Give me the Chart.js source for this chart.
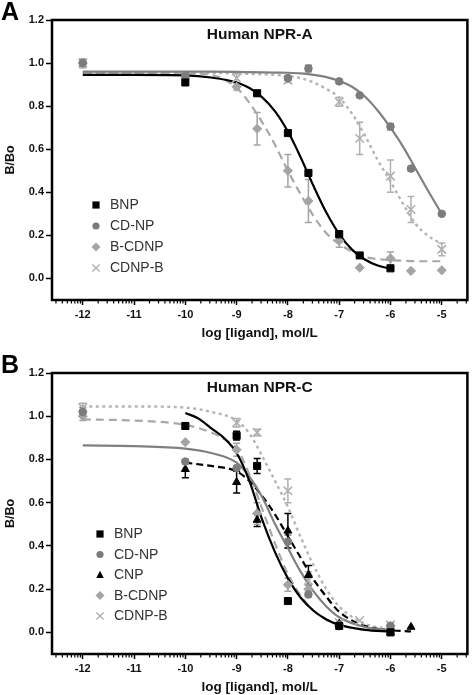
<!DOCTYPE html>
<html>
<head>
<meta charset="utf-8">
<title>Human NPR-A / NPR-C binding</title>
<script src="https://cdn.jsdelivr.net/npm/chart.js"></script>
<style>
  body { margin:0; background:#fff; width:475px; height:695px; position:relative; overflow:hidden; font-family:"Liberation Sans", Arial, sans-serif; }
  .panel { position:absolute; left:0; width:475px; height:345px; }
  .tag { position:absolute; left:1px; font-weight:bold; font-size:25px; line-height:25px; color:#000; }
</style>
</head>
<body>
<div class="panel" style="top:0"><canvas id="chartA" width="475" height="345"></canvas></div>
<div class="panel" style="top:350px"><canvas id="chartB" width="475" height="345"></canvas></div>
<div class="tag" style="top:-1px">A</div>
<div class="tag" style="top:352px">B</div>

<script>
const FONT = '"Liberation Sans", Arial, sans-serif';

// ================= DATA =================
const xTicks = [-12, -11, -10, -9, -8, -7, -6, -5];
const yTicks = [0, 0.2, 0.4, 0.6, 0.8, 1.0, 1.2];

// --- A: Human NPR-A, measured points (log M, B/Bo, SEM) ---
const aBnpX = [-10, -8.6, -8, -7.6, -7, -6.6, -6];
const aBnpY = [0.91, 0.86, 0.675, 0.49, 0.205, 0.107, 0.047];
const aBnpE = [0.01, 0.01, 0.01, 0, 0.015, 0.01, 0];

const aCdnpX = [-12, -10, -8, -7.6, -7, -6.6, -6, -5.6, -5];
const aCdnpY = [1.0, 0.94, 0.93, 0.975, 0.915, 0.85, 0.705, 0.51, 0.30];
const aCdnpE = [0.02, 0.01, 0.01, 0.015, 0.01, 0.005, 0.015, 0.01, 0.005];

const aBcdnpX = [-12, -10, -9, -8.6, -8, -7.6, -7, -6.6, -6, -5.6, -5];
const aBcdnpY = [1.0, 0.93, 0.89, 0.695, 0.50, 0.36, 0.175, 0.05, 0.093, 0.035, 0.038];
const aBcdnpE = [0.02, 0.01, 0.015, 0.075, 0.075, 0.10, 0.03, 0, 0.03, 0, 0];

const aCdnpbX = [-12, -9, -8, -7, -6.6, -6, -5.6, -5];
const aCdnpbY = [1.0, 0.93, 0.92, 0.82, 0.65, 0.475, 0.32, 0.135];
const aCdnpbE = [0.02, 0.02, 0.01, 0.02, 0.075, 0.075, 0.06, 0.03];

// --- A: fitted curves ---
const aFitX = [-12, -11, -10, -9.5, -9, -8.75, -8.5, -8.25, -8, -7.75, -7.5, -7.25, -7, -6.75, -6.5, -6.25, -6, -5.75, -5.5, -5.25, -5];
const aBnpFit = [0.945, 0.945, 0.943, 0.933, 0.91, 0.884, 0.841, 0.776, 0.682, 0.562, 0.429, 0.306, 0.206, 0.134, 0.088, 0.06, 0.045];
const aCdnpFit = [0.96, 0.96, 0.96, 0.96, 0.959, 0.958, 0.957, 0.956, 0.955, 0.952, 0.945, 0.935, 0.917, 0.89, 0.845, 0.78, 0.70, 0.61, 0.505, 0.40, 0.30];
const aBcdnpFit = [0.955, 0.955, 0.952, 0.945, 0.885, 0.815, 0.725, 0.62, 0.50, 0.39, 0.29, 0.21, 0.16, 0.125, 0.10, 0.09, 0.085, 0.082, 0.08, 0.08, 0.08];
const aCdnpbFit = [0.955, 0.955, 0.955, 0.954, 0.952, 0.95, 0.948, 0.945, 0.94, 0.93, 0.91, 0.88, 0.84, 0.765, 0.665, 0.55, 0.45, 0.345, 0.25, 0.195, 0.16];

// --- B: Human NPR-C, measured points ---
const bBnpX = [-10, -9, -8.6, -8, -7, -6];
const bBnpY = [0.955, 0.91, 0.77, 0.145, 0.03, 0.0];
const bBnpE = [0.015, 0.02, 0.035, 0, 0, 0];

const bCdnpX = [-12, -10, -9, -8, -7.6, -7, -6];
const bCdnpY = [1.02, 0.79, 0.76, 0.42, 0.175, 0.035, 0.03];
const bCdnpE = [0.02, 0.01, 0, 0.03, 0.01, 0, 0];

const bCnpX = [-10, -9, -8.6, -8, -7.6, -7, -6, -5.6];
const bCnpY = [0.755, 0.695, 0.52, 0.47, 0.265, 0.04, 0.0, 0.025];
const bCnpE = [0.04, 0.05, 0.03, 0.08, 0.045, 0, 0, 0];

const bBcdnpX = [-12, -10, -9, -8.6, -8, -7.6, -7, -6];
const bBcdnpY = [1.0, 0.88, 0.845, 0.55, 0.22, 0.2, 0.03, 0.03];
const bBcdnpE = [0.02, 0, 0.03, 0.05, 0.03, 0.02, 0, 0];

const bCdnpbX = [-12, -9, -8.6, -8, -7.6, -7, -6.6, -6];
const bCdnpbY = [1.04, 0.97, 0.925, 0.655, 0.24, 0.045, 0.055, 0.035];
const bCdnpbE = [0.02, 0.02, 0.015, 0.055, 0.04, 0, 0, 0];

// --- B: fitted curves ---
const bBnpFitX = [-10, -9.75, -9.5, -9.25, -9, -8.75, -8.5, -8.25, -8, -7.75, -7.5, -7.25, -7, -6.5, -6];
const bBnpFit = [1.015, 0.99, 0.945, 0.90, 0.83, 0.70, 0.52, 0.37, 0.25, 0.16, 0.10, 0.06, 0.035, 0.012, 0.004];
const bCdnpFitX = [-12, -11, -10, -9.5, -9, -8.75, -8.5, -8.25, -8, -7.75, -7.5, -7.25, -7, -6.5, -6];
const bCdnpFit = [0.865, 0.862, 0.85, 0.83, 0.785, 0.72, 0.625, 0.50, 0.39, 0.28, 0.19, 0.12, 0.07, 0.025, 0.01];
const bCnpFitX = [-10, -9.5, -9, -8.75, -8.5, -8.25, -8, -7.75, -7.5, -7.25, -7, -6.5, -6, -5.6];
const bCnpFit = [0.785, 0.77, 0.745, 0.70, 0.63, 0.545, 0.445, 0.345, 0.245, 0.165, 0.095, 0.03, 0.01, 0.005];
const bBcdnpFitX = [-12, -11, -10, -9.5, -9.25, -9, -8.75, -8.5, -8.25, -8, -7.75, -7.5, -7.25, -7, -6.5, -6];
const bBcdnpFit = [0.985, 0.98, 0.96, 0.925, 0.895, 0.85, 0.73, 0.57, 0.41, 0.27, 0.17, 0.10, 0.06, 0.035, 0.012, 0.005];
const bCdnpbFitX = [-12, -11, -10, -9.5, -9, -8.75, -8.5, -8.25, -8, -7.75, -7.5, -7.25, -7, -6.5, -6];
const bCdnpbFit = [1.045, 1.045, 1.04, 1.02, 0.98, 0.92, 0.815, 0.70, 0.58, 0.44, 0.31, 0.20, 0.12, 0.04, 0.015];

// ================= STYLE =================
const C_BNP = '#000000', C_CDNP = '#7c7c7c', C_CNP = '#000000', C_BCDNP = '#a4a4a4', C_CDNPB = '#b0b0b0';

function pts(xs, ys) {
  return ys.map((y, i) => ({ x: xs[i], y }));
}

function pointSet(label, xs, ys, err, style, color, radius) {
  return {
    label, data: pts(xs, ys), err,
    showLine: false, pointStyle: style, pointRadius: radius,
    pointBackgroundColor: color, pointBorderColor: color,
    pointBorderWidth: style === 'crossRot' ? 1.6 : 1,
    borderColor: color, backgroundColor: color
  };
}

function curveSet(xs, ys, color, dash, width) {
  return {
    data: pts(xs, ys), borderColor: color, borderWidth: width,
    borderDash: dash, pointRadius: 0, fill: false,
    cubicInterpolationMode: 'monotone'
  };
}

// legend marker (drawn by hand, same look as the chart points)
function marker(ctx, style, x, y, r, color) {
  ctx.fillStyle = color; ctx.strokeStyle = color;
  ctx.beginPath();
  if (style === 'rect') ctx.rect(x - r, y - r, 2 * r, 2 * r);
  else if (style === 'circle') ctx.arc(x, y, r, 0, Math.PI * 2);
  else if (style === 'triangle') { ctx.moveTo(x, y - r * 1.15); ctx.lineTo(x + r * 1.05, y + r * 0.8); ctx.lineTo(x - r * 1.05, y + r * 0.8); ctx.closePath(); }
  else if (style === 'rectRot') { ctx.moveTo(x, y - r * 1.25); ctx.lineTo(x + r * 1.25, y); ctx.lineTo(x, y + r * 1.25); ctx.lineTo(x - r * 1.25, y); ctx.closePath(); }
  if (style === 'crossRot') {
    ctx.lineWidth = 1.4;
    ctx.moveTo(x - r, y - r); ctx.lineTo(x + r, y + r);
    ctx.moveTo(x + r, y - r); ctx.lineTo(x - r, y + r);
    ctx.stroke();
  } else ctx.fill();
}

// ================= PLUGINS =================
const errorBars = {
  id: 'errorBars',
  beforeDatasetsDraw(chart) {
    const { ctx, scales: { x, y } } = chart;
    ctx.save();
    chart.data.datasets.forEach(ds => {
      if (!ds.err) return;
      ctx.strokeStyle = ds.borderColor;
      ctx.lineWidth = 1.5;
      ds.data.forEach((p, i) => {
        const e = ds.err[i];
        if (!e) return;
        const px = x.getPixelForValue(p.x);
        const top = y.getPixelForValue(p.y + e), bot = y.getPixelForValue(p.y - e);
        ctx.beginPath();
        ctx.moveTo(px, top); ctx.lineTo(px, bot);
        ctx.moveTo(px - 3.5, top); ctx.lineTo(px + 3.5, top);
        ctx.moveTo(px - 3.5, bot); ctx.lineTo(px + 3.5, bot);
        ctx.stroke();
      });
    });
    ctx.restore();
  }
};

const frame = {
  id: 'frame',
  afterDraw(chart, args, opts) {
    const { ctx, chartArea: a, scales: { x } } = chart;
    ctx.save();
    // box
    ctx.strokeStyle = '#000';
    ctx.lineWidth = 2.5;
    ctx.strokeRect(a.left, a.top, a.right - a.left, a.bottom - a.top);
    // minor log ticks
    ctx.lineWidth = 1.2;
    ctx.beginPath();
    for (let n = -13; n <= -5; n++) {
      for (let k = 2; k <= 9; k++) {
        const v = n + Math.log10(k);
        if (v < x.min || v > x.max) continue;
        const px = x.getPixelForValue(v);
        ctx.moveTo(px, a.bottom); ctx.lineTo(px, a.bottom + 3.5);
      }
    }
    ctx.stroke();
    // title inside the plot
    ctx.fillStyle = '#111';
    ctx.font = 'bold 15.5px ' + FONT;
    ctx.textAlign = 'center';
    ctx.textBaseline = 'middle';
    ctx.fillText(opts.title, (a.left + a.right) / 2, a.top + 15);
    // legend
    ctx.font = '14px ' + FONT;
    ctx.textAlign = 'left';
    let row = 0;
    chart.data.datasets.forEach(ds => {
      if (!ds.label) return;
      const ly = a.top + opts.legendTop + row * opts.legendGap;
      marker(ctx, ds.pointStyle, opts.legendX, ly, 3.6, ds.pointBackgroundColor);
      ctx.fillStyle = '#333';
      ctx.fillText(ds.label, opts.legendX + 14, ly + 0.5);
      row++;
    });
    ctx.restore();
  }
};

// ================= CHARTS =================
function makeChart(id, datasets, cfg) {
  return new Chart(document.getElementById(id), {
    type: 'line',
    data: { datasets },
    plugins: [errorBars, frame],
    options: {
      responsive: false,
      animation: false,
      layout: { padding: { top: cfg.padTop, right: 3, left: 0, bottom: 0 } },
      plugins: {
        legend: { display: false },
        tooltip: { enabled: false },
        frame: { title: cfg.title, legendTop: cfg.legendTop, legendGap: cfg.legendGap, legendX: cfg.legendX }
      },
      scales: {
        x: {
          type: 'linear', min: -12.6, max: -4.5,
          afterBuildTicks: s => { s.ticks = xTicks.map(v => ({ value: v })); },
          afterFit: s => { s.height = cfg.axisH; },
          grid: { drawOnChartArea: false, drawTicks: true, tickLength: 5, tickWidth: 1.5, tickColor: '#000' },
          border: { display: false },
          ticks: { font: { family: FONT, size: 11, weight: 'bold' }, color: '#111', padding: 3, maxRotation: 0, autoSkip: false, callback: v => String(v) },
          title: { display: true, text: 'log [ligand], mol/L', color: '#111', font: { family: FONT, size: 13.5, weight: 'bold' }, padding: { top: 0, bottom: cfg.titlePad } }
        },
        y: {
          min: -0.1, max: 1.2,
          afterBuildTicks: s => { s.ticks = yTicks.map(v => ({ value: v })); },
          afterFit: s => { s.width = 52; },
          grid: { drawOnChartArea: false, drawTicks: true, tickLength: 6, tickWidth: 1.5, tickColor: '#000' },
          border: { display: false },
          ticks: { font: { family: FONT, size: 11, weight: 'bold' }, color: '#111', padding: 2, callback: v => v.toFixed(1) },
          title: { display: true, text: 'B/Bo', color: '#111', font: { family: FONT, size: 12.5, weight: 'bold' }, padding: { top: 3, bottom: 0 } }
        }
      }
    }
  });
}

makeChart('chartA', [
  pointSet('BNP', aBnpX, aBnpY, aBnpE, 'rect', C_BNP, 5),
  pointSet('CD-NP', aCdnpX, aCdnpY, aCdnpE, 'circle', C_CDNP, 3.8),
  pointSet('B-CDNP', aBcdnpX, aBcdnpY, aBcdnpE, 'rectRot', C_BCDNP, 4.6),
  pointSet('CDNP-B', aCdnpbX, aCdnpbY, aCdnpbE, 'crossRot', C_CDNPB, 6),
  curveSet(aFitX, aBnpFit, '#000', [], 2.2),
  curveSet(aFitX, aCdnpFit, '#808080', [], 2.2),
  curveSet(aFitX, aBcdnpFit, '#a8a8a8', [8, 5], 2.2),
  curveSet(aFitX, aCdnpbFit, '#b4b4b4', [3, 3.5], 2.4)
], { title: 'Human NPR-A', padTop: 20, axisH: 45, titlePad: 4, legendTop: 185, legendGap: 21, legendX: 96 });

makeChart('chartB', [
  pointSet('BNP', bBnpX, bBnpY, bBnpE, 'rect', C_BNP, 5),
  pointSet('CD-NP', bCdnpX, bCdnpY, bCdnpE, 'circle', C_CDNP, 3.8),
  pointSet('CNP', bCnpX, bCnpY, bCnpE, 'triangle', C_CNP, 4.6),
  pointSet('B-CDNP', bBcdnpX, bBcdnpY, bBcdnpE, 'rectRot', C_BCDNP, 4.6),
  pointSet('CDNP-B', bCdnpbX, bCdnpbY, bCdnpbE, 'crossRot', C_CDNPB, 6),
  curveSet(bBnpFitX, bBnpFit, '#000', [], 2.2),
  curveSet(bCdnpFitX, bCdnpFit, '#808080', [], 2.2),
  curveSet(bCnpFitX, bCnpFit, '#000', [7, 4], 2.2),
  curveSet(bBcdnpFitX, bBcdnpFit, '#a8a8a8', [8, 5], 2.2),
  curveSet(bCdnpbFitX, bCdnpbFit, '#b4b4b4', [3, 3.5], 2.4)
], { title: 'Human NPR-C', padTop: 23, axisH: 41, titlePad: 0, legendTop: 161, legendGap: 20.5, legendX: 100 });
</script>
</body>
</html>
